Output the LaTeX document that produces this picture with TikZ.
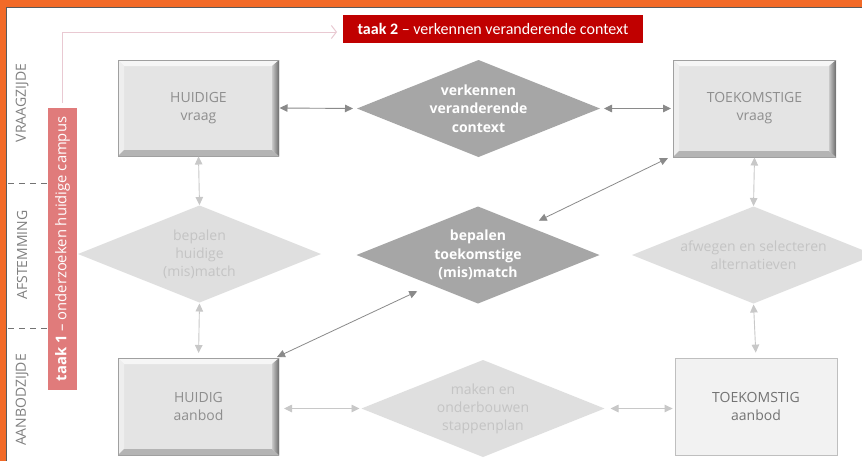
\documentclass[tikz,border=0pt]{standalone}
\usepackage{fontspec}
\setmainfont{Open Sans}
\newfontfamily\calib{Carlito}
\usetikzlibrary{shapes.geometric,arrows.meta}
\definecolor{frameor}{HTML}{F26A27}
\definecolor{framegray}{HTML}{5A5A5A}
\definecolor{boxfill}{HTML}{E4E4E4}
\definecolor{boxline}{HTML}{A0A0A0}
\definecolor{bevtop}{HTML}{F6F6F6}
\definecolor{bevleft}{HTML}{EEEEEE}
\definecolor{bevright}{HTML}{858585}
\definecolor{bevbot}{HTML}{B4B4B4}
\definecolor{boxtext}{HTML}{8E8E8E}
\definecolor{plainfill}{HTML}{F2F2F2}
\definecolor{plainline}{HTML}{BFBFBF}
\definecolor{ddfill}{HTML}{A6A6A6}
\definecolor{dlfill}{HTML}{DFDFDF}
\definecolor{dltext}{HTML}{C4C4C4}
\definecolor{darkarr}{HTML}{8A8A8A}
\definecolor{lightarr}{HTML}{C8C8C8}
\definecolor{taakred}{HTML}{C00000}
\definecolor{taakpink}{HTML}{E07B7B}
\definecolor{pinkline}{HTML}{E9C9D2}
\definecolor{sidegray}{HTML}{808080}
\begin{document}
\begin{tikzpicture}[x=1pt,y=-1pt,
  lbl/.style={font=\fontsize{14}{18}\selectfont, align=center},
  bevelbox/.style={lbl, rectangle, minimum width=161pt, minimum height=96pt,
    fill=boxfill, text=boxtext, inner sep=0pt, outer sep=0pt,
    path picture={
      \fill[bevtop] (path picture bounding box.north west) -- (path picture bounding box.north east)
        -- ([shift={(-7pt,-6pt)}]path picture bounding box.north east) -- ([shift={(6pt,-6pt)}]path picture bounding box.north west) -- cycle;
      \fill[bevleft] (path picture bounding box.north west) -- ([shift={(6pt,-6pt)}]path picture bounding box.north west)
        -- ([shift={(6pt,6pt)}]path picture bounding box.south west) -- (path picture bounding box.south west) -- cycle;
      \fill[bevbot] (path picture bounding box.south west) -- ([shift={(6pt,6pt)}]path picture bounding box.south west)
        -- ([shift={(-7pt,6pt)}]path picture bounding box.south east) -- (path picture bounding box.south east) -- cycle;
      \shade[left color=bevright!45!white, right color=bevright!80!black] (path picture bounding box.north east) -- ([shift={(-7pt,-6pt)}]path picture bounding box.north east)
        -- ([shift={(-7pt,6pt)}]path picture bounding box.south east) -- (path picture bounding box.south east) -- cycle;
      \draw[boxline, line width=0.6pt] (path picture bounding box.north west) rectangle (path picture bounding box.south east);
    }},
  plainbox/.style={lbl, rectangle, minimum width=162pt, minimum height=97pt,
    fill=plainfill, draw=plainline, line width=0.8pt, text=sidegray!90!black},
  ddark/.style={lbl, diamond, shape aspect=2.5, minimum width=243pt, minimum height=97pt,
    inner sep=0pt, outer sep=0pt, fill=ddfill, text=white, font=\fontsize{14}{18.5}\selectfont\bfseries},
  dlight/.style={lbl, diamond, shape aspect=2.5, minimum width=243pt, minimum height=97pt,
    inner sep=0pt, outer sep=0pt, fill=dlfill, text=dltext},
  dbl/.style={{Triangle[length=8pt,width=7.5pt]}-{Triangle[length=8pt,width=7.5pt]}, line width=0.9pt},
  sidelab/.style={rotate=90, text=sidegray, font=\fontsize{14}{16}\selectfont},
  dashline/.style={framegray!85!white, line width=0.9pt, dash pattern=on 6pt off 5pt}
]
\useasboundingbox (0,0) rectangle (862,461);
% frame
\fill[frameor] (0,0) rectangle (862,461);
\fill[white] (7,8) rectangle (862,461);
\draw[framegray, line width=1pt] (6.5,461) -- (6.5,7.5) -- (862,7.5);

% side labels
\node[sidelab] (sl1) at (22,103) {VRAAGZIJDE};
\node[sidelab] (sl2) at (22,255) {AFSTEMMING};
\node[sidelab] (sl3) at (22,400) {AANBODZIJDE};
\draw[dashline] (8,183) -- (47,183);
\draw[dashline] (8,328) -- (47,328);

% task boxes
\node[rotate=90, fill=taakpink, text=white, minimum width=282pt, minimum height=29pt, inner sep=0pt,
  font=\fontsize{14.8}{17}\selectfont] (t1) at (62.5,249) {\textbf{taak 1} – onderzoeken huidige campus};
\node[fill=taakred, text=white, minimum width=300pt, minimum height=28pt, inner sep=0pt,
  font=\calib\fontsize{16}{18}\selectfont] (t2) at (493,29) {\textbf{taak 2} – verkennen veranderende context};
\coordinate (pk) at (337,32);
\draw[pinkline, line width=1pt, -{Straight Barb[length=5pt,width=13pt]}] ([yshift=5pt]t1.east) |- (pk);

% boxes
\node[bevelbox] (hv) at (198.5,108) {HUIDIGE\\vraag};
\node[bevelbox, minimum width=163pt, minimum height=97pt] (tv) at (754.5,108.5) {TOEKOMSTIGE\\vraag};
\node[bevelbox, minimum height=97pt] (ha) at (198.5,406.5) {HUIDIG\\aanbod};
\node[plainbox] (ta) at (756,406.5) {TOEKOMSTIG\\aanbod};

% diamonds
\node[ddark] (d1) at (478.5,108.5) {verkennen\\veranderende\\context};
\node[dlight] (d2) at (199.5,254) {bepalen\\huidige\\(mis)match};
\node[ddark] (d3) at (478,255) {bepalen\\toekomstige\\(mis)match};
\node[dlight] (d4) at (753.5,255) {afwegen en selecteren\\alternatieven};
\node[dlight] (d5) at (483,408.5) {maken en\\onderbouwen\\stappenplan};

% connectors
\draw[dbl, darkarr, shorten <=0.5pt, shorten >=4pt] (hv.east) -- (d1.west);
\draw[dbl, darkarr, shorten <=4pt, shorten >=2pt] (d1.east) -- (tv.west);
\draw[dbl, lightarr, shorten <=0.5pt, shorten >=0.5pt] (hv.south) -- (d2.north);
\draw[dbl, lightarr, shorten <=1pt, shorten >=5pt] (d2.south) -- (ha.north);
\draw[dbl, lightarr, shorten <=0.5pt, shorten >=0.5pt] (tv.south) -- (d4.north);
\draw[dbl, lightarr, shorten <=1pt, shorten >=5pt] (d4.south) -- (ta.north);
\draw[dbl, lightarr, shorten <=5pt, shorten >=2pt] (ha.east |- d5.west) -- (d5.west);
\draw[dbl, lightarr, shorten <=6pt, shorten >=2pt] (d5.east) -- (ta.west |- d5.east);
\draw[dbl, darkarr, line width=0.8pt] ([shift={(-5,1)}]tv.south west) -- ([shift={(0,-10)}]d3.north east);
\draw[dbl, darkarr, line width=0.8pt] ([shift={(-2,-1)}]ha.north east) -- ([shift={(0,12)}]d3.south west);
\end{tikzpicture}
\end{document}
